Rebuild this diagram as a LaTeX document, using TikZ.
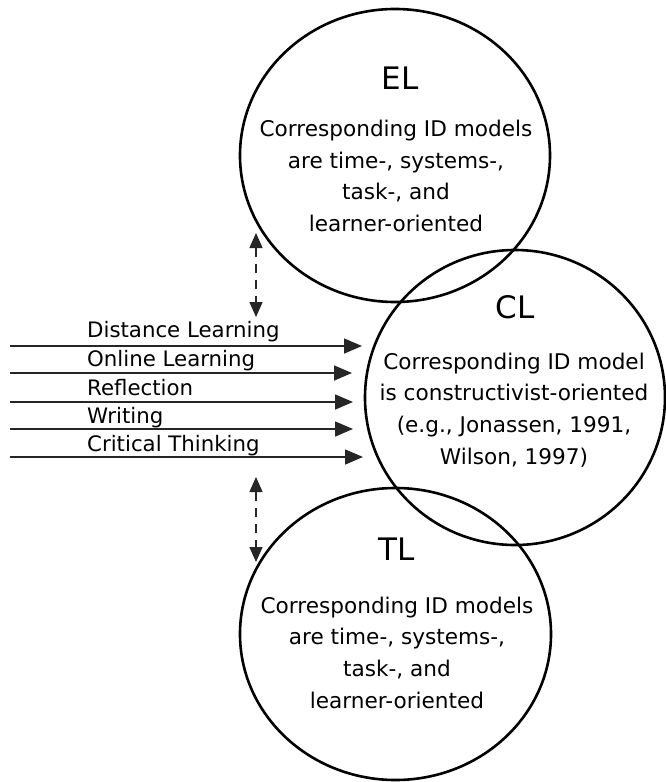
\documentclass[tikz,border=0pt]{standalone}
\usepackage{fontspec}
\setmainfont{DejaVu Sans}
\usetikzlibrary{arrows.meta,shapes.geometric}
\begin{document}
\begin{tikzpicture}[x=1pt,y=-1pt,
  ring/.style={draw=black,line width=2.6pt,ellipse,inner sep=0pt},
  title/.style={anchor=base,inner sep=0pt,font=\fontsize{31}{31}\selectfont},
  body/.style={align=center,inner sep=0pt,font=\fontsize{21.6}{31.7}\selectfont},
  lab/.style={anchor=base west,inner sep=0pt,font=\fontsize{21.3}{24}\selectfont},
  inarrow/.style={draw=black!85,line width=1.6pt,-{Triangle[length=18pt,width=15pt]}},
  link/.style={draw=black!85,line width=1.6pt,dash pattern=on 9pt off 7pt,{Triangle[length=15pt,width=13pt]}-{Triangle[length=15pt,width=13pt]}}]
\fill[white] (0,0) rectangle (666,782);
\useasboundingbox (0,0) rectangle (666,782);
% circles
\node[ring,minimum width=310pt,minimum height=293pt] (el) at (395,155.5) {};
\node[ring,minimum width=300pt,minimum height=295pt] (cl) at (515,397.5) {};
\node[ring,minimum width=311pt,minimum height=292pt] (tl) at (395.5,634) {};
% titles
\node[title] (elt) at (400,89.5) {EL};
\node[title] (clt) at (515,318) {CL};
\node[title] (tlt) at (397,560) {TL};
% bodies
\node[body] (elb) at (396,176) {Corresponding ID models\\are time-, systems-,\\task-, and\\learner-oriented};
\node[body] (clb) at (514,410) {Corresponding ID model\\is constructivist-oriented\\(e.g., Jonassen, 1991,\\Wilson, 1997)};
\node[body] (tlb) at (397,652.5) {Corresponding ID models\\are time-, systems-,\\task-, and\\learner-oriented};
% input labels
\node[lab] (l1) at (87,337) {Distance Learning};
\node[lab] (l2) at (87,366) {Online Learning};
\node[lab] (l3) at (87,395) {Reflection};
\node[lab] (l4) at (87,423) {Writing};
\node[lab] (l5) at (87,451) {Critical Thinking};
% arrow ends
\coordinate (s1) at (10,346); \coordinate (e1) at (362,346);
\coordinate (s2) at (10,373); \coordinate (e2) at (352,373);
\coordinate (s3) at (10,402); \coordinate (e3) at (353,402);
\coordinate (s4) at (10,429); \coordinate (e4) at (353,429);
\coordinate (s5) at (10,457); \coordinate (e5) at (363,457);
\draw[inarrow] (s1) -- (e1);
\draw[inarrow] (s2) -- (e2);
\draw[inarrow] (s3) -- (e3);
\draw[inarrow] (s4) -- (e4);
\draw[inarrow] (s5) -- (e5);
% dashed links
\coordinate (u1) at (256,233); \coordinate (d1) at (256,317);
\coordinate (u2) at (256,477); \coordinate (d2) at (256,562);
\draw[link] (u1) -- (d1);
\draw[link] (u2) -- (d2);
\end{tikzpicture}
\end{document}
